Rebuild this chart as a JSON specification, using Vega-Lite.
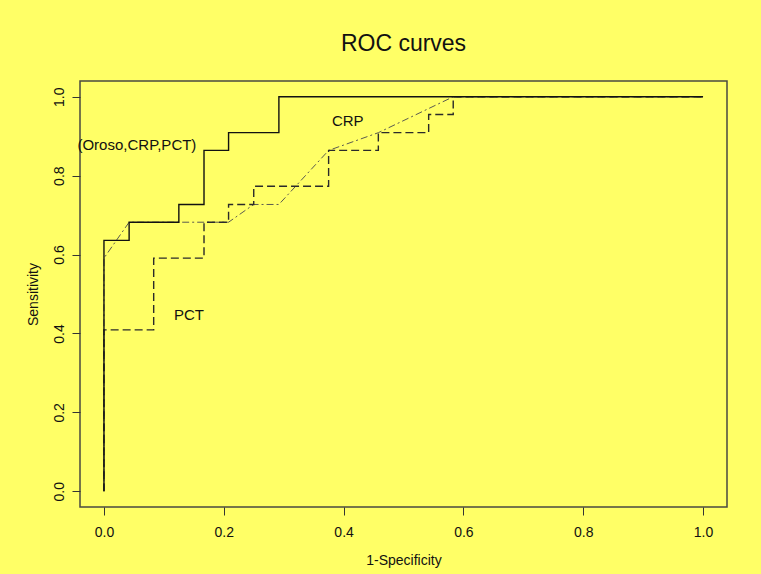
{
  "$schema": "https://vega.github.io/schema/vega-lite/v6.json",
  "width": 647,
  "height": 426,
  "autosize": {"type": "none"},
  "padding": {"left": 80, "top": 81, "right": 34, "bottom": 67},
  "background": "#FFFF66",
  "title": {
    "text": "ROC curves",
    "font": "Liberation Sans",
    "fontSize": 23,
    "fontWeight": "normal",
    "color": "#111111",
    "anchor": "middle",
    "offset": 25
  },
  "config": {
    "view": {"stroke": "#4a4a40", "strokeWidth": 1.5},
    "font": "Liberation Sans",
    "axis": {
      "grid": false,
      "domain": false,
      "tickColor": "#333333",
      "tickSize": 8,
      "labelFont": "Liberation Sans",
      "labelFontSize": 14,
      "labelColor": "#111111",
      "titleFont": "Liberation Sans",
      "titleFontSize": 14,
      "titleFontWeight": "normal",
      "titleColor": "#111111"
    }
  },
  "datasets": {
    "roc": [
      {"curve": "Oroso", "ord": 1, "fpr": 0.0, "tpr": 0.0},
      {"curve": "Oroso", "ord": 2, "fpr": 0.0, "tpr": 0.636},
      {"curve": "Oroso", "ord": 3, "fpr": 0.042, "tpr": 0.636},
      {"curve": "Oroso", "ord": 4, "fpr": 0.042, "tpr": 0.682},
      {"curve": "Oroso", "ord": 5, "fpr": 0.125, "tpr": 0.682},
      {"curve": "Oroso", "ord": 6, "fpr": 0.125, "tpr": 0.727},
      {"curve": "Oroso", "ord": 7, "fpr": 0.167, "tpr": 0.727},
      {"curve": "Oroso", "ord": 8, "fpr": 0.167, "tpr": 0.864},
      {"curve": "Oroso", "ord": 9, "fpr": 0.208, "tpr": 0.864},
      {"curve": "Oroso", "ord": 10, "fpr": 0.208, "tpr": 0.909},
      {"curve": "Oroso", "ord": 11, "fpr": 0.292, "tpr": 0.909},
      {"curve": "Oroso", "ord": 12, "fpr": 0.292, "tpr": 1.0},
      {"curve": "Oroso", "ord": 13, "fpr": 1.0, "tpr": 1.0},
      {"curve": "PCT", "ord": 1, "fpr": 0.0, "tpr": 0.0},
      {"curve": "PCT", "ord": 2, "fpr": 0.0, "tpr": 0.409},
      {"curve": "PCT", "ord": 3, "fpr": 0.083, "tpr": 0.409},
      {"curve": "PCT", "ord": 4, "fpr": 0.083, "tpr": 0.591},
      {"curve": "PCT", "ord": 5, "fpr": 0.167, "tpr": 0.591},
      {"curve": "PCT", "ord": 6, "fpr": 0.167, "tpr": 0.682},
      {"curve": "PCT", "ord": 7, "fpr": 0.208, "tpr": 0.682},
      {"curve": "PCT", "ord": 8, "fpr": 0.208, "tpr": 0.727},
      {"curve": "PCT", "ord": 9, "fpr": 0.25, "tpr": 0.727},
      {"curve": "PCT", "ord": 10, "fpr": 0.25, "tpr": 0.773},
      {"curve": "PCT", "ord": 11, "fpr": 0.375, "tpr": 0.773},
      {"curve": "PCT", "ord": 12, "fpr": 0.375, "tpr": 0.864},
      {"curve": "PCT", "ord": 13, "fpr": 0.458, "tpr": 0.864},
      {"curve": "PCT", "ord": 14, "fpr": 0.458, "tpr": 0.909},
      {"curve": "PCT", "ord": 15, "fpr": 0.542, "tpr": 0.909},
      {"curve": "PCT", "ord": 16, "fpr": 0.542, "tpr": 0.955},
      {"curve": "PCT", "ord": 17, "fpr": 0.583, "tpr": 0.955},
      {"curve": "PCT", "ord": 18, "fpr": 0.583, "tpr": 1.0},
      {"curve": "PCT", "ord": 19, "fpr": 1.0, "tpr": 1.0},
      {"curve": "CRP", "ord": 1, "fpr": 0.0, "tpr": 0.0},
      {"curve": "CRP", "ord": 2, "fpr": 0.0, "tpr": 0.591},
      {"curve": "CRP", "ord": 3, "fpr": 0.042, "tpr": 0.682},
      {"curve": "CRP", "ord": 4, "fpr": 0.208, "tpr": 0.682},
      {"curve": "CRP", "ord": 5, "fpr": 0.25, "tpr": 0.727},
      {"curve": "CRP", "ord": 6, "fpr": 0.292, "tpr": 0.727},
      {"curve": "CRP", "ord": 7, "fpr": 0.375, "tpr": 0.864},
      {"curve": "CRP", "ord": 8, "fpr": 0.458, "tpr": 0.909},
      {"curve": "CRP", "ord": 9, "fpr": 0.583, "tpr": 1.0},
      {"curve": "CRP", "ord": 10, "fpr": 1.0, "tpr": 1.0}
    ],
    "labels": [
      {"label": "(Oroso,CRP,PCT)", "fpr": 0.055, "tpr": 0.878},
      {"label": "CRP", "fpr": 0.407, "tpr": 0.939},
      {"label": "PCT", "fpr": 0.142, "tpr": 0.446}
    ]
  },
  "encoding": {
    "x": {
      "field": "fpr",
      "type": "quantitative",
      "scale": {"domain": [-0.04, 1.04], "nice": false, "zero": false},
      "axis": {
        "title": "1-Specificity",
        "values": [0, 0.2, 0.4, 0.6, 0.8, 1.0],
        "format": ".1f",
        "labelPadding": 10,
        "titlePadding": 14
      }
    },
    "y": {
      "field": "tpr",
      "type": "quantitative",
      "scale": {"domain": [-0.04, 1.04], "nice": false, "zero": false},
      "axis": {
        "title": "Sensitivity",
        "values": [0, 0.2, 0.4, 0.6, 0.8, 1.0],
        "format": ".1f",
        "labelAngle": -90,
        "labelAlign": "center",
        "labelBaseline": "bottom",
        "labelPadding": 6,
        "titlePadding": 12
      }
    }
  },
  "layer": [
    {
      "data": {"name": "roc"},
      "transform": [{"filter": "datum.curve === 'CRP'"}],
      "mark": {"type": "line", "color": "#5a5a50", "strokeWidth": 1, "strokeDash": [7, 3, 2, 3]},
      "encoding": {"order": {"field": "ord", "type": "quantitative"}}
    },
    {
      "data": {"name": "roc"},
      "transform": [{"filter": "datum.curve === 'PCT'"}],
      "mark": {"type": "line", "color": "#2a2a2a", "strokeWidth": 1.4, "strokeDash": [8, 4]},
      "encoding": {"order": {"field": "ord", "type": "quantitative"}}
    },
    {
      "data": {"name": "roc"},
      "transform": [{"filter": "datum.curve === 'Oroso'"}],
      "mark": {"type": "line", "color": "#111111", "strokeWidth": 1.4},
      "encoding": {"order": {"field": "ord", "type": "quantitative"}}
    },
    {
      "data": {"name": "labels"},
      "mark": {"type": "text", "font": "Liberation Sans", "fontSize": 15, "color": "#111111", "align": "center", "baseline": "middle"},
      "encoding": {"text": {"field": "label", "type": "nominal"}}
    }
  ]
}
